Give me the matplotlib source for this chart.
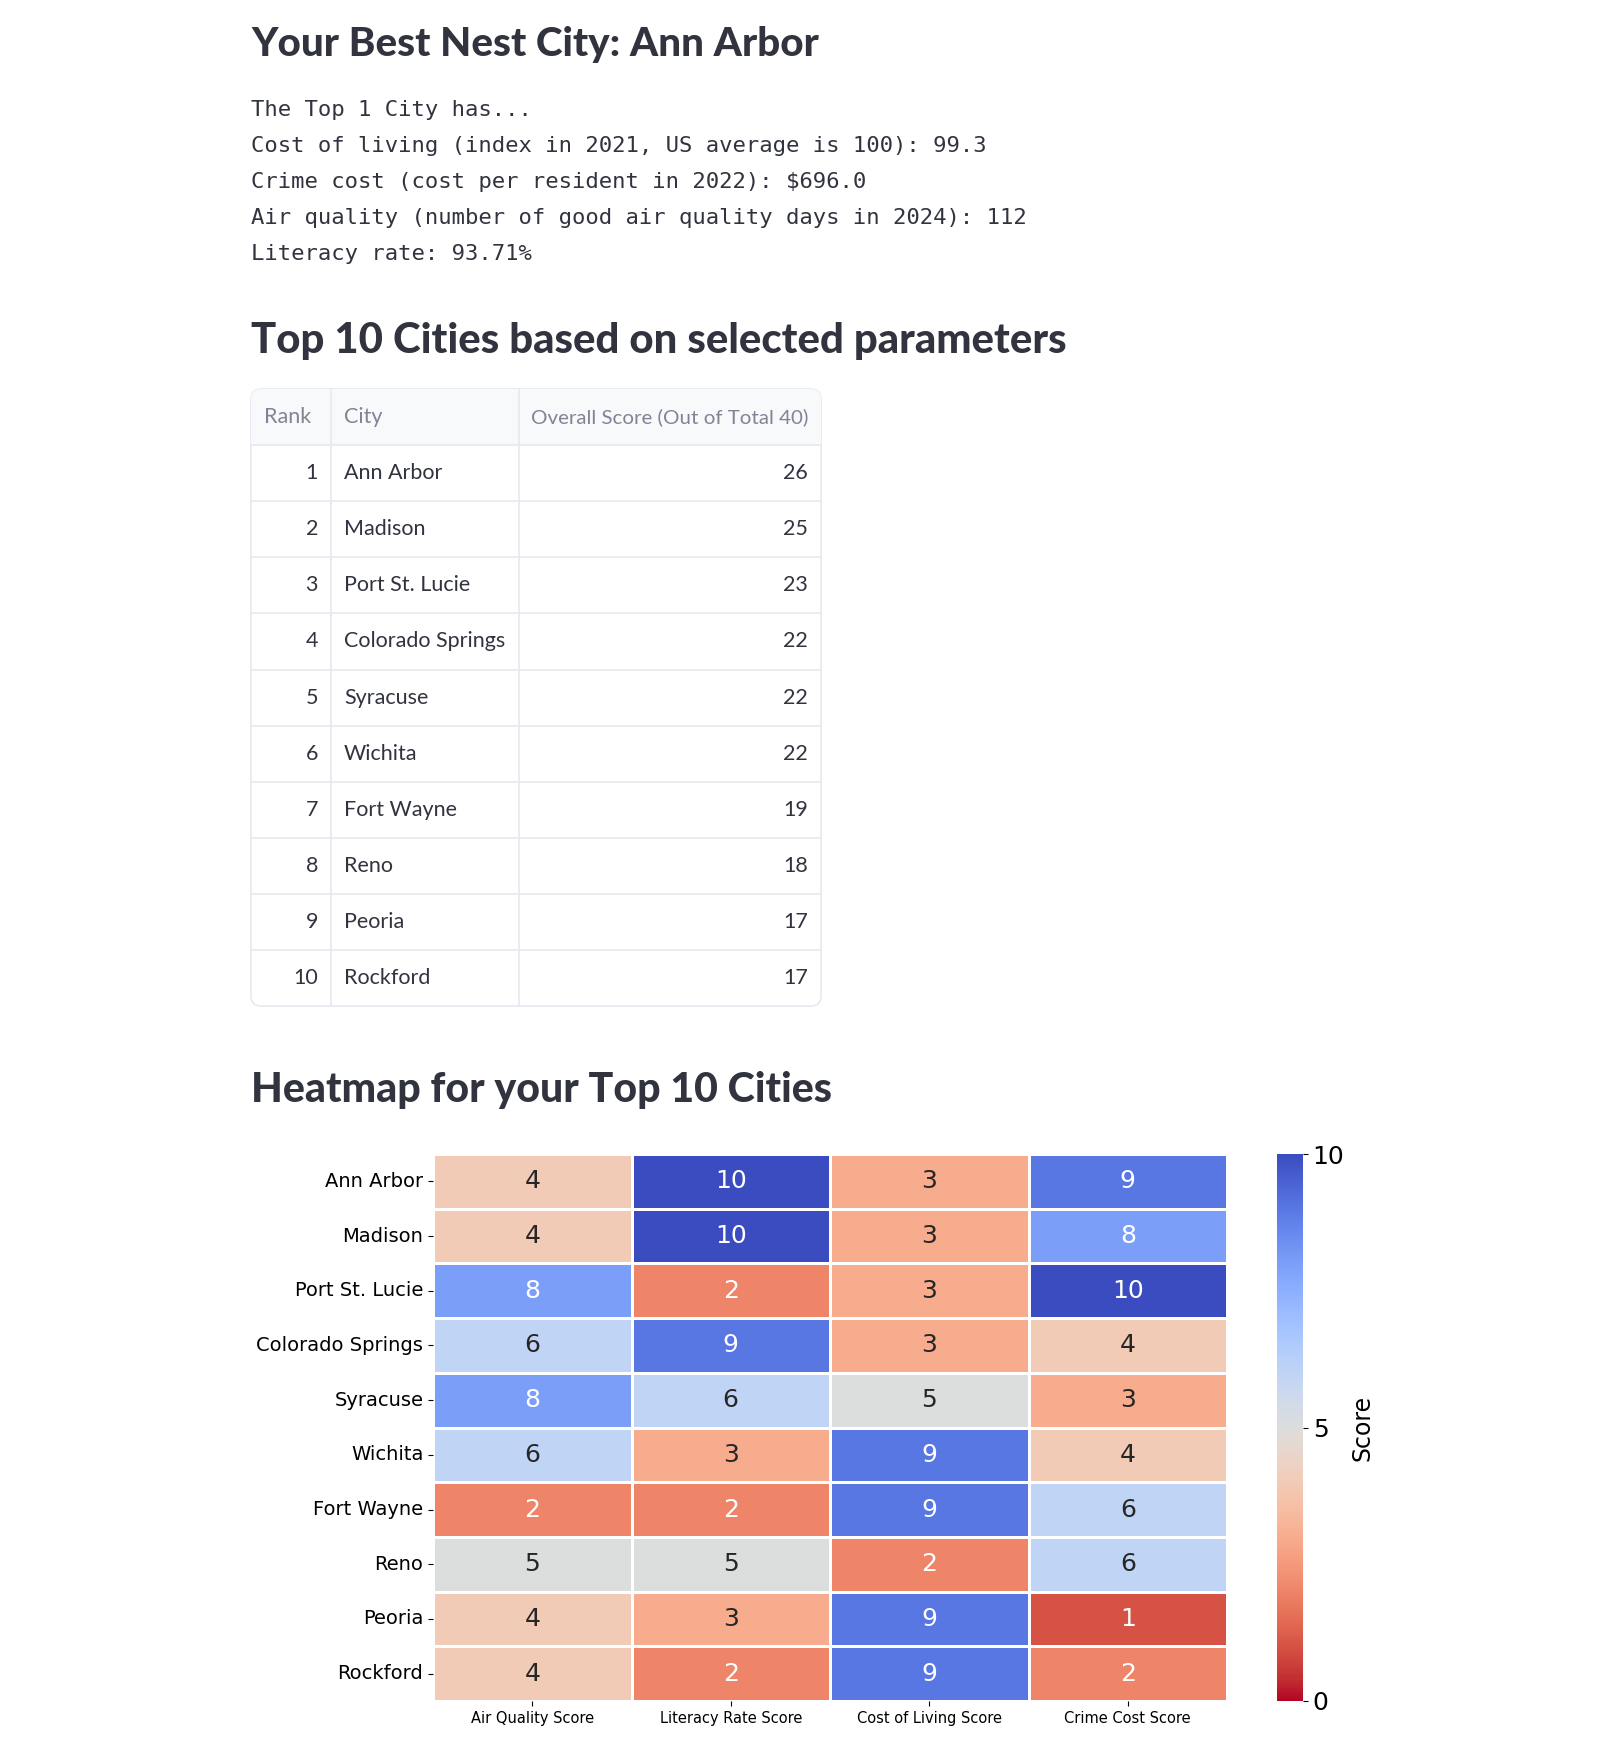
import matplotlib
matplotlib.use("Agg")
import matplotlib.pyplot as plt  # noqa: E402
import pandas as pd  # noqa: E402
import seaborn as sns  # noqa: E402
from matplotlib.patches import FancyBboxPatch, Rectangle  # noqa: E402

W, H, DPI = 1620, 1746, 100
INK = "#31333F"
GREY = "#808495"
LINE = "#E6E9EF"
HEAD_BG = "#F8F9FB"
SANS = ["Lato", "DejaVu Sans"]
MONO = ["DejaVu Sans Mono"]

# ── data ──
best_city = "Ann Arbor"
summary = [
    "The Top 1 City has...",
    "Cost of living (index in 2021, US average is 100): 99.3",
    "Crime cost (cost per resident in 2022): $696.0",
    "Air quality (number of good air quality days in 2024): 112",
    "Literacy rate: 93.71%",
]
table_cols = ["Rank", "City", "Overall Score (Out of Total 40)"]
ranks = [1, 2, 3, 4, 5, 6, 7, 8, 9, 10]
cities = ["Ann Arbor", "Madison", "Port St. Lucie", "Colorado Springs", "Syracuse",
          "Wichita", "Fort Wayne", "Reno", "Peoria", "Rockford"]
overall = [26, 25, 23, 22, 22, 22, 19, 18, 17, 17]
score_cols = ["Air Quality Score", "Literacy Rate Score", "Cost of Living Score", "Crime Cost Score"]
air_q = [4, 4, 8, 6, 8, 6, 2, 5, 4, 4]
literacy = [10, 10, 2, 9, 6, 3, 2, 5, 3, 2]
cost_living = [3, 3, 3, 3, 5, 9, 9, 2, 9, 9]
crime_cost = [9, 8, 10, 4, 3, 4, 6, 6, 1, 2]

fig = plt.figure(figsize=(W / DPI, H / DPI), dpi=DPI)
fig.patch.set_facecolor("white")
ax0 = fig.add_axes([0, 0, 1, 1])
ax0.set_xlim(0, W); ax0.set_ylim(H, 0); ax0.axis("off")
rend = fig.canvas.get_renderer()


def fit(t, width):
    # scale font so the text is `width` pixels wide
    bb = t.get_window_extent(rend)
    t.set_fontsize(t.get_fontsize() * width / bb.width)
    return t


# ── headings + summary ──
fit(ax0.text(251, 56, f"Your Best Nest City: {best_city}", fontsize=38, weight=900,
             color=INK, family=SANS, va="baseline"), 566)
for i, s in enumerate(summary):
    ax0.text(251, 116 + 36 * i, s, fontsize=16, color=INK, family=MONO, va="baseline")
fit(ax0.text(251, 353, "Top 10 Cities based on selected parameters", fontsize=30, weight=900,
             color=INK, family=SANS, va="baseline"), 814)
fit(ax0.text(251, 1102, "Heatmap for your Top 10 Cities", fontsize=30, weight=900,
             color=INK, family=SANS, va="baseline"), 581)

# ── table ──
tx0, tx1, ty0, rh = 251, 821, 389, 56.1
cx = [tx0, 331, 519, tx1]
ty1 = ty0 + rh * (len(cities) + 1)
box = FancyBboxPatch((tx0, ty0), tx1 - tx0, ty1 - ty0, boxstyle="round,pad=0,rounding_size=10",
                     fc="white", ec=LINE, lw=1.2, zorder=1)
ax0.add_patch(box)
hdr = Rectangle((tx0, ty0), tx1 - tx0, rh, fc=HEAD_BG, ec="none", zorder=1.5)
ax0.add_patch(hdr); hdr.set_clip_path(box)
for k in range(1, len(cities) + 1):
    ax0.plot([tx0, tx1], [ty0 + rh * k] * 2, color=LINE, lw=1.2, zorder=2)
for x in cx[1:3]:
    ax0.plot([x, x], [ty0, ty1], color=LINE, lw=1.2, zorder=2)

fs = 15.5
yc = ty0 + rh / 2
ax0.text(264, yc, table_cols[0], fontsize=fs, color=GREY, family=SANS, va="center")
ax0.text(344, yc, table_cols[1], fontsize=fs, color=GREY, family=SANS, va="center")
fit(ax0.text(808, yc, table_cols[2], fontsize=fs, color=GREY, family=SANS, va="center",
             ha="right"), 276)
for i, (r, c, s) in enumerate(zip(ranks, cities, overall)):
    yc = ty0 + rh * (i + 1.5)
    ax0.text(318, yc, str(r), fontsize=fs, color=INK, family=SANS, va="center", ha="right")
    ax0.text(344, yc, c, fontsize=fs, color=INK, family=SANS, va="center")
    ax0.text(808, yc, str(s), fontsize=fs, color=INK, family=SANS, va="center", ha="right")

# ── heatmap ──
df = pd.DataFrame(dict(zip(score_cols, [air_q, literacy, cost_living, crime_cost])), index=cities)
hx0, hx1, hy0, hy1 = 433, 1227, 1154, 1701
axh = fig.add_axes([hx0 / W, 1 - hy1 / H, (hx1 - hx0) / W, (hy1 - hy0) / H])
cax = fig.add_axes([1277 / W, 1 - hy1 / H, 26 / W, (hy1 - hy0) / H])
sns.heatmap(df, ax=axh, cbar_ax=cax, cmap="coolwarm_r", vmin=0, vmax=10, annot=True,
            annot_kws={"size": 18}, linewidths=1, linecolor="white",
            cbar_kws={"ticks": [0, 5, 10]})
axh.tick_params(axis="y", labelsize=14, rotation=0)
axh.tick_params(axis="x", labelsize=10.5, rotation=0)
cax.tick_params(labelsize=18)
cax.set_ylabel("Score", fontsize=17)

fig.savefig("out.png", dpi=DPI)
